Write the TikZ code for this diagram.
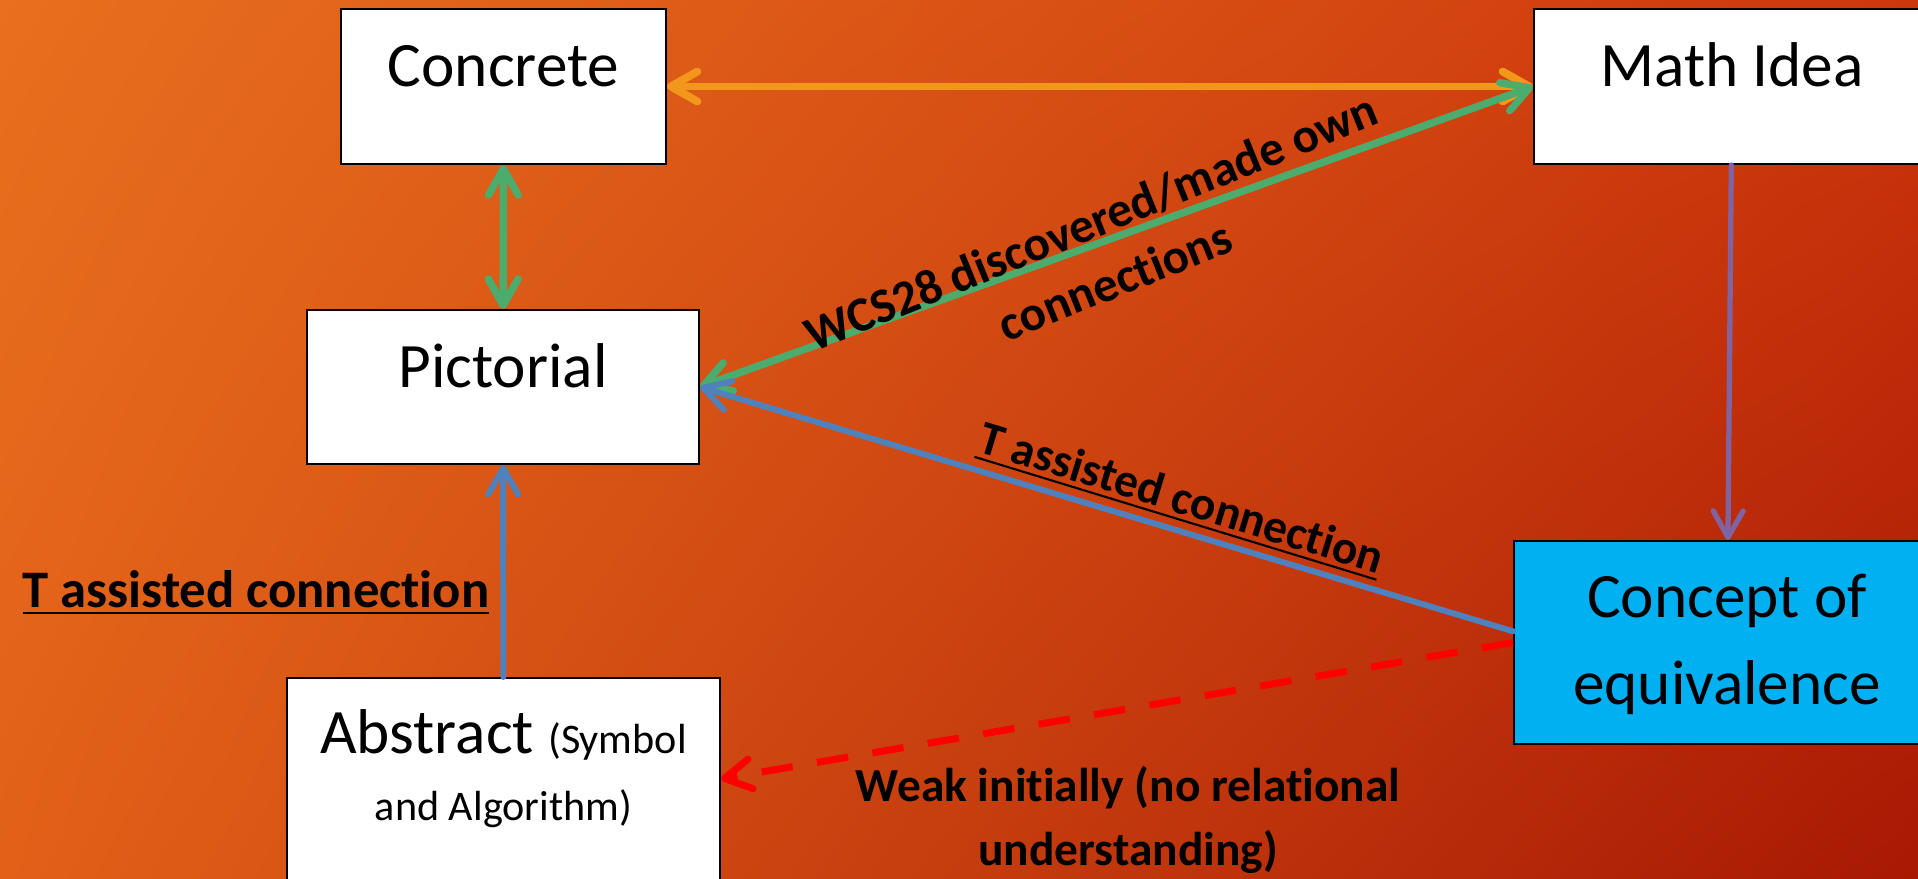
\documentclass[tikz,border=0pt]{standalone}
\usepackage{fontspec}
\setmainfont{Carlito}[Ligatures=NoCommon]
\usetikzlibrary{arrows.meta,shadings}
\definecolor{ColBgA}{RGB}{232,112,30}
\definecolor{ColBgB}{RGB}{205,55,12}
\definecolor{ColBgC}{RGB}{226,96,24}
\definecolor{ColBgD}{RGB}{168,24,4}
\definecolor{ColOrange}{RGB}{243,150,28}
\definecolor{ColGreen}{RGB}{75,172,110}
\definecolor{ColBlue}{RGB}{79,129,189}
\definecolor{ColPurple}{RGB}{128,100,162}
\definecolor{ColRed}{RGB}{255,0,0}
\definecolor{ColCyan}{RGB}{0,176,240}
\newcommand{\ThickUnder}[1]{\setbox0=\hbox{#1}\leavevmode\rlap{\rule[-4pt]{\wd0}{1.2pt}}\box0}
\tikzstyle{BoxNode}=[draw=black,fill=white,line width=1.2pt,inner sep=0pt,
font=\fontsize{36}{43}\selectfont]
\tikzstyle{FlatText}=[text height=0pt,text depth=0pt]
\tikzstyle{LabelText}=[inner sep=0pt,align=center,font=\bfseries\fontsize{27}{36}\selectfont]
\tikzstyle{EdgeOrange}=[ColOrange,line width=4.5pt,line cap=round]
\tikzstyle{EdgeGreen}=[ColGreen,line width=4.2pt,line cap=round]
\tikzstyle{EdgeBlue}=[ColBlue,line width=3.4pt,line cap=round]
\tikzstyle{EdgePurple}=[ColPurple,line width=3pt,line cap=round]
\tikzstyle{EdgeRed}=[ColRed,line width=4pt,dash pattern=on 18pt off 14pt]

\begin{document}
\begin{tikzpicture}[x=0.02cm,y=-0.02cm,>={Straight Barb[length=15pt,width=17pt,round]}]
        \useasboundingbox(0,0)rectangle(1918,879);
        \clip(0,0)rectangle(1918,879);
        \shade[upper left=ColBgA,upper right=ColBgB,lower left=ColBgC,lower right=ColBgD](0,0)rectangle(1918,879);
        \node[BoxNode,FlatText,minimum width=6.5cm,minimum height=3.1cm](concrete)at(503.5,86.5){Concrete};
        \node[BoxNode,FlatText,minimum width=7.92cm,minimum height=3.1cm](math)at(1732,86.5){Math Idea};
        \node[BoxNode,FlatText,minimum width=7.84cm,minimum height=3.08cm](pictorial)at(503,387){Pictorial};
        \node[BoxNode,align=center,text height=50pt,text depth=3pt,minimum width=8.66cm,minimum height=4.04cm,
        font=\fontsize{36}{38}\selectfont](abstract)at(503.5,779){Abstract {\fontsize{24}{38}\selectfont(Symbol}\\
        {\fontsize{24}{38}\selectfont and Algorithm)}};
        \node[BoxNode,fill=ColCyan,align=center,text height=75pt,text depth=4pt,minimum width=8.52cm,minimum height=4.06cm,
        font=\fontsize{36}{50}\selectfont](concept)at(1727,642.5){Concept of\\equivalence};
        \draw[EdgeOrange,<->](concrete)--(math);
        \draw[EdgeGreen,<->](concrete)--(pictorial);
        \draw[EdgeGreen,<->](pictorial.east)--(math.west);
        \draw[EdgeBlue,->](concept.177)--(pictorial.east);
        \draw[EdgeBlue,->](abstract)--(pictorial);
        \draw[EdgePurple,->](math)--(concept);
        \draw[EdgeRed,->](concept.west)--(abstract.east);
        \node[LabelText,font=\bfseries\fontsize{28}{36}\selectfont,rotate=22](wcs)at(1103,251){WCS28 discovered/made own\\connections};
        \node[LabelText,rotate=-17](tdiag)at(1181,500){\ThickUnder{T assisted connection}};
        \node[LabelText,font=\bfseries\fontsize{30}{36}\selectfont,anchor=base](tleft)at(256,607){\ThickUnder{T assisted connection}};
        \node[LabelText,anchor=base](weak)at(1128,865){Weak initially (no relational\\understanding)};
    \end{tikzpicture}
\end{document}
